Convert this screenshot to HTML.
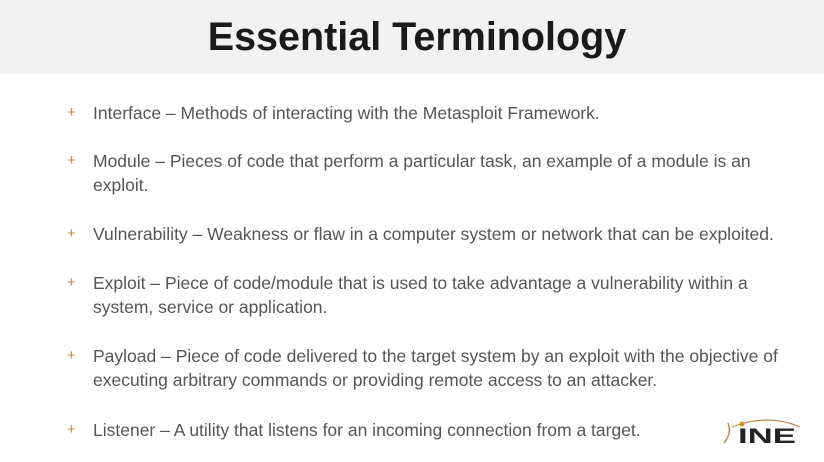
<!DOCTYPE html>
<html><head><style>
body{margin:0;width:824px;height:462px;background:#fff;position:relative;overflow:hidden;font-family:"Liberation Sans",sans-serif}
.hd{position:absolute;left:0;top:0;width:824px;height:74px;background:#f2f2f2}
.hd h1{margin:0;padding-left:10px;text-align:center;font-size:39.5px;line-height:74px;font-weight:bold;color:#1a1a1a}
.it{position:absolute;left:93px;white-space:nowrap;font-size:17.5px;line-height:24px;color:#555}
.it:before{content:"+";position:absolute;left:-26px;color:#c08a4a;font-size:15px}
</style></head><body>
<div class="hd"><h1>Essential Terminology</h1></div>
<div class="it" style="top:101px">Interface – Methods of interacting with the Metasploit Framework.</div>
<div class="it" style="top:149px">Module – Pieces of code that perform a particular task, an example of a module is an<br>exploit.</div>
<div class="it" style="top:222px">Vulnerability – Weakness or flaw in a computer system or network that can be exploited.</div>
<div class="it" style="top:271px">Exploit – Piece of code/module that is used to take advantage a vulnerability within a<br>system, service or application.</div>
<div class="it" style="top:344px">Payload – Piece of code delivered to the target system by an exploit with the objective of<br>executing arbitrary commands or providing remote access to an attacker.</div>
<div class="it" style="top:418px">Listener – A utility that listens for an incoming connection from a target.</div>
<svg style="position:absolute;left:718px;top:415px" width="90" height="32" viewBox="0 0 90 32">
<path d="M6 28 Q14 18 10 8" stroke="#c08a4a" stroke-width="1.5" fill="none"/>
<path d="M14 12 Q50 -2 82 12" stroke="#c08a4a" stroke-width="1.2" fill="none"/>
<circle cx="24" cy="9" r="2.5" fill="#d98a2b"/>
<text x="20" y="28" font-family="Liberation Sans" font-weight="bold" font-size="21" textLength="58" lengthAdjust="spacingAndGlyphs" fill="#222">INE</text>
</svg>
</body></html>
